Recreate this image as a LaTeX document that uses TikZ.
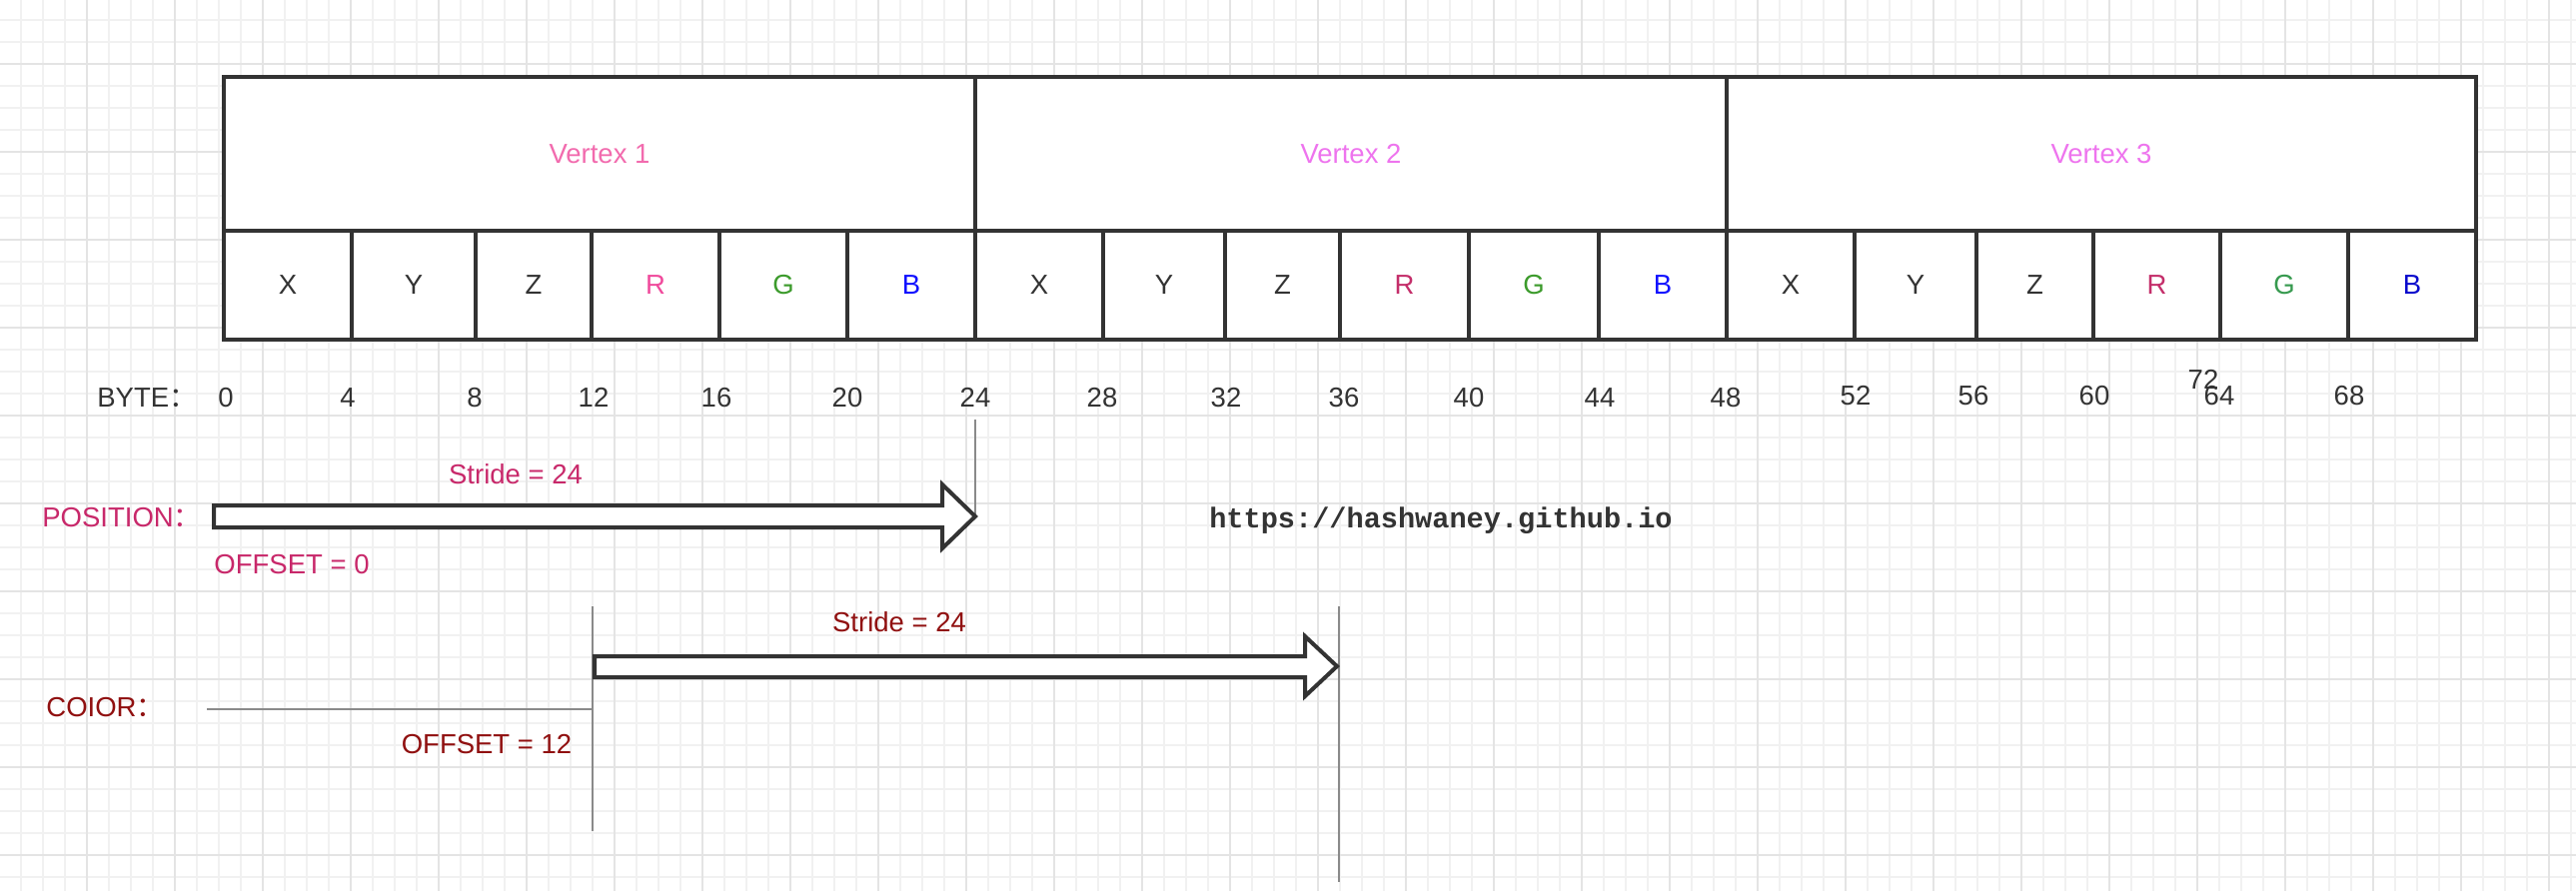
\documentclass[tikz,border=0pt]{standalone}
\usepackage{fontspec}
\setmainfont{Liberation Sans}
\newfontfamily\cjkfont{Noto Sans CJK SC}
\newfontfamily\urlfamily{Liberation Mono}
\usetikzlibrary{fit}
\definecolor{dark}{HTML}{333333}
\definecolor{gridminor}{HTML}{F1F1F1}
\definecolor{gridmajor}{HTML}{E4E4E4}
\definecolor{guidegray}{HTML}{8A8A8A}
\definecolor{vtxa}{HTML}{F26BAE}
\definecolor{vtxb}{HTML}{EE74EE}
\definecolor{reda}{HTML}{F04A9C}
\definecolor{redb}{HTML}{C42E6A}
\definecolor{greena}{HTML}{3C9B2C}
\definecolor{greenb}{HTML}{379A4F}
\definecolor{bluea}{HTML}{1111FF}
\definecolor{blueb}{HTML}{0A0ACC}
\definecolor{poscol}{HTML}{C8286A}
\definecolor{colcol}{HTML}{901010}
\begin{document}
\begin{tikzpicture}[x=0.5pt,y=-0.5pt,
  every node/.style={font=\fontsize{13.75}{16}\selectfont, text=dark},
  cell/.style={draw=dark, line width=2pt, inner sep=0pt, fill=white},
  lbl/.style={inner sep=0pt},
  guide/.style={draw=guidegray, line width=1pt},
  blockarrow/.style={draw=dark, line width=2pt, fill=white, line join=miter}]
\useasboundingbox (0,0) rectangle (2578,892);
\fill[white] (0,0) rectangle (2578,892);
% grid
\foreach \x in {21,43,...,2577} \draw[gridminor, line width=0.8pt] (\x,0) -- (\x,892);
\foreach \y in {20,42,...,890} \draw[gridminor, line width=0.8pt] (0,\y) -- (2578,\y);
\foreach \x in {87,175,...,2577} \draw[gridmajor, line width=1.1pt] (\x,0) -- (\x,892);
\foreach \y in {64,152,...,890} \draw[gridmajor, line width=1.1pt] (0,\y) -- (2578,\y);
% vertex cells
\node[cell, fit={(224,77) (976,231)}, label={[text=vtxa]center:Vertex 1}] (v1) {};
\node[cell, fit={(976,77) (1728,231)}, label={[text=vtxb]center:Vertex 2}] (v2) {};
\node[cell, fit={(1728,77) (2478,231)}, label={[text=vtxb]center:Vertex 3}] (v3) {};
% field cells
\foreach \a/\b/\t/\c/\n in {
  224/352/X/dark/xa, 352/476/Y/dark/ya, 476/592/Z/dark/za,
  592/720/R/reda/ra, 720/848/G/greena/ga, 848/976/B/bluea/ba,
  976/1104/X/dark/xb, 1104/1226/Y/dark/yb, 1226/1341/Z/dark/zb,
  1341/1470/R/redb/rb, 1470/1600/G/greena/gb, 1600/1728/B/bluea/bb,
  1728/1856/X/dark/xc, 1856/1978/Y/dark/yc, 1978/2095/Z/dark/zc,
  2095/2222/R/redb/rc, 2222/2350/G/greenb/gc, 2350/2478/B/blueb/bc}
  \node[cell, fit={(\a,231) (\b,340)}, label={[text=\c]center:\t}] (\n) {};
% byte labels
\node[lbl, anchor=west] (byte) at (97,398) {BYTE{\cjkfont ：}};
\foreach \x/\v/\y in {226/0/398, 348/4/398, 475/8/398, 594/12/398, 717/16/398,
  848/20/398, 976/24/398, 1103/28/398, 1227/32/398, 1345/36/398, 1470/40/398,
  1601/44/398, 1727/48/398, 1857/52/396, 1975/56/396, 2096/60/396, 2221/64/396,
  2351/68/396, 2205/72/380}
  \node[lbl] (n\v) at (\x,\y) {\v};
% position row
\node[lbl, anchor=west, text=poscol] (poslbl) at (42,518) {POSITION{\cjkfont ：}};
\node[lbl, text=poscol] (posstride) at (516,475) {Stride = 24};
\node[lbl, text=poscol] (posoff) at (292,565) {OFFSET = 0};
\coordinate (g1top) at (976,420);
\coordinate (g1bot) at (976,518);
\draw[guide] (g1top) -- (g1bot);
\draw[blockarrow] (214,506) -- (943,506) -- (943,485) -- (976,517) -- (943,549) -- (943,528) -- (214,528) -- cycle;
% color row
\node[lbl, anchor=west, text=colcol] (collbl) at (46,708) {COIOR{\cjkfont ：}};
\node[lbl, text=colcol] (colstride) at (900,623) {Stride = 24};
\node[lbl, text=colcol] (coloff) at (487,745) {OFFSET = 12};
\coordinate (g2top) at (593,607);
\coordinate (g2bot) at (593,832);
\coordinate (g2left) at (207,710);
\coordinate (g2mid) at (593,710);
\coordinate (g3top) at (1340,607);
\coordinate (g3bot) at (1340,883);
\draw[guide] (g2top) -- (g2bot);
\draw[guide] (g2left) -- (g2mid);
\draw[guide] (g3top) -- (g3bot);
\draw[blockarrow] (595,657) -- (1306,657) -- (1306,637) -- (1338,667) -- (1306,697) -- (1306,678) -- (595,678) -- cycle;
% url
\node[lbl, font={\urlfamily\bfseries\fontsize{14.3}{17}\selectfont}] (url) at (1442,521) {https://hashwaney.github.io};
\end{tikzpicture}
\end{document}
